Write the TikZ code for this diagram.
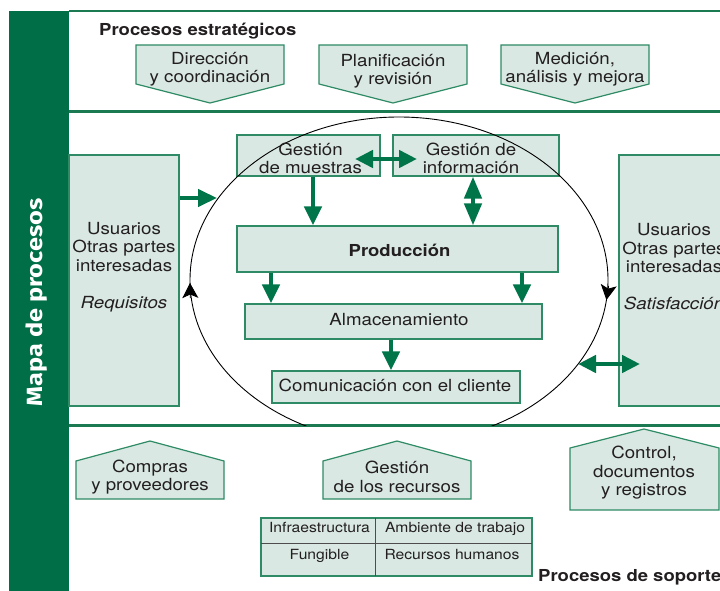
\documentclass[tikz,border=0pt]{standalone}
\usepackage{fontspec}
\usepackage{graphicx}
\setmainfont[FakeStretch=1.12]{TeX Gyre Heros}
\newfontfamily\sidefont{Fira Sans}
\usetikzlibrary{arrows.meta}
\definecolor{sidegreen}{HTML}{006F47}
\definecolor{linegreen}{HTML}{1B7A52}
\definecolor{boxgreen}{HTML}{2E8B65}
\definecolor{boxfill}{HTML}{D9E8E2}
\definecolor{arrgreen}{HTML}{00754A}
\definecolor{txtc}{HTML}{231F20}
\begin{document}
\begin{tikzpicture}[x=1pt,y=-1pt,
  sepline/.style={draw=linegreen,line width=3pt},
  boxsh/.style={draw=boxgreen,fill=boxfill,line width=1.2pt,inner sep=0pt},
  pent/.style={draw=boxgreen,fill=boxfill,line width=1.2pt,line join=miter},
  txt/.style={text=txtc,font=\fontsize{16.7}{18.5}\selectfont,align=center,inner sep=0pt},
  smalltxt/.style={text=txtc,font=\fontsize{14}{16}\selectfont,inner sep=0pt},
  titletxt/.style={text=txtc,font=\bfseries\fontsize{16.5}{18}\selectfont,inner sep=0pt},
  garrow/.style={draw=arrgreen,line width=4.5pt,-{Triangle[length=19pt,width=17pt]}},
  gdarrow/.style={draw=arrgreen,line width=4.5pt,{Triangle[length=18pt,width=17pt]}-{Triangle[length=18pt,width=17pt]}},
  cyctip/.style={draw=black,line width=0.9pt,-{Stealth[length=15pt,width=16pt,inset=3.5pt]}},
  tabline/.style={draw=txtc!80,line width=1pt}
]
\useasboundingbox (0,0) rectangle (720,591);
\clip (0,0) rectangle (720,591);
\fill[white] (0,0) rectangle (720,591);

% side bar
\fill[sidegreen] (9,11) rectangle (69,591);
\node[rotate=90,text=white,font=\sidefont\bfseries\fontsize{22}{22}\selectfont,inner sep=0pt] (side) at (37,302.5) {\scalebox{1.15}[1]{Mapa de procesos}};

% separators
\draw[draw=linegreen,line width=2pt] (69,11) -- (720,11);
\draw[sepline] (69,112) -- (720,112);
\draw[sepline] (69,425) -- (720,425);

% strategic processes
\node[titletxt,anchor=base west] (strat) at (99,35.7) {Procesos estratégicos};
\draw[pent] (136,45) -- (284,45) -- (284,84) -- (210,103) -- (136,84) -- cycle;
\draw[pent] (319,45) -- (467,45) -- (467,84) -- (393,103) -- (319,84) -- cycle;
\draw[pent] (501,45) -- (649,45) -- (649,84) -- (575,103) -- (501,84) -- cycle;
\node[txt] (dir) at (210,69) {Dirección\\y coordinación};
\node[txt] (plan) at (393,71) {Planificación\\y revisión};
\node[txt] (med) at (575,69) {Medición,\\análisis y mejora};

% user boxes
\node[boxsh,minimum width=110pt,minimum height=251pt] (luser) at (124,280.5) {};
\node[boxsh,minimum width=110pt,minimum height=251pt] (ruser) at (674,280.5) {};
\node[txt] (lusertxt) at (124,267) {Usuarios\\Otras partes\\interesadas\\[18.5pt]\textit{Requisitos}};
\node[txt] (rusertxt) at (674,267) {Usuarios\\Otras partes\\interesadas\\[18.5pt]\textit{Satisfacción}};

% central boxes
\node[boxsh,minimum width=143pt,minimum height=41pt] (muestras) at (308.5,155.5) {};
\node[boxsh,minimum width=166pt,minimum height=41pt] (info) at (476,155.5) {};
\node[boxsh,minimum width=321pt,minimum height=46pt] (prod) at (397.5,249) {};
\node[boxsh,minimum width=297pt,minimum height=35pt] (alm) at (393.5,321.5) {};
\node[boxsh,minimum width=248pt,minimum height=32pt] (com) at (396,387) {};

% cycle ellipse
\begin{scope}
\clip (69,112) rectangle (720,425);
\draw[black,line width=0.9pt] (399,280) ellipse [x radius=209, y radius=163];
\end{scope}
\coordinate (cl0) at (190.3,298);
\coordinate (cl1) at (190.0,283);
\coordinate (cr0) at (608.6,286);
\coordinate (cr1) at (606.4,300);
\draw[cyctip] (cl0) -- (cl1);
\draw[cyctip] (cr0) -- (cr1);

% texts of central boxes
\node[txt] (muestrastxt) at (310.5,158.5) {Gestión\\de muestras};
\node[txt] (infotxt) at (471,158.5) {Gestión de\\información};
\node[txt,font=\bfseries\fontsize{16.5}{18.5}\selectfont,anchor=base] (prodtxt) at (399.5,256) {Producción};
\node[txt,anchor=base] (almtxt) at (399,325) {Almacenamiento};
\node[txt,anchor=base] (comtxt) at (395,391.7) {Comunicación con el cliente};

% arrows
\coordinate (eL) at (217,198);
\coordinate (eR) at (578,364);
\coordinate (rT) at (640,364);
\coordinate (mA) at (355,159);
\coordinate (mB) at (417,159);
\coordinate (m1) at (313,0);
\coordinate (i1) at (473,0);
\coordinate (p1) at (271,0);
\coordinate (p2) at (522,0);
\coordinate (a1) at (391,0);
\draw[garrow] (luser.east |- eL) -- (eL);
\draw[gdarrow] (eR) -- (rT);
\draw[gdarrow] (mA) -- (mB);
\draw[garrow] (muestras.south -| m1) -- (prod.north -| m1);
\draw[draw=arrgreen,line width=4.5pt,{Triangle[length=22pt,width=17pt]}-{Triangle[length=22pt,width=17pt]}] (info.south -| i1) -- (prod.north -| i1);
\draw[garrow] (prod.south -| p1) -- (alm.north -| p1);
\draw[garrow] (prod.south -| p2) -- (alm.north -| p2);
\draw[garrow] (alm.south -| a1) -- (com.north -| a1);

% support processes
\draw[pent] (76,499) -- (76,461) -- (150,441) -- (224,461) -- (224,499) -- cycle;
\draw[pent] (323,499) -- (323,461) -- (397,441) -- (471,461) -- (471,499) -- cycle;
\draw[pent] (570,510) -- (570,448) -- (644,429) -- (719,448) -- (719,510) -- cycle;
\node[txt] (compras) at (150,477) {Compras\\y proveedores};
\node[txt] (recursos) at (397,477) {Gestión\\de los recursos};
\node[txt] (control) at (644,473) {Control,\\documentos\\y registros};

% resources table
\node[boxsh,minimum width=271pt,minimum height=58pt] (tab) at (396.5,547) {};
\coordinate (vdiv) at (375,0);
\coordinate (hdiv) at (0,543);
\draw[tabline] (tab.west |- hdiv) -- (tab.east |- hdiv);
\draw[tabline] (tab.north -| vdiv) -- (tab.south -| vdiv);
\draw[draw=boxgreen,line width=1.2pt] (tab.north west) rectangle (tab.south east);
\node[smalltxt,anchor=base] (infra) at (319.5,532.7) {Infraestructura};
\node[smalltxt,anchor=base] (amb) at (455,532.7) {Ambiente de trabajo};
\node[smalltxt,anchor=base] (fung) at (319.5,559.5) {Fungible};
\node[smalltxt,anchor=base] (rrhh) at (452,559.5) {Recursos humanos};

\node[titletxt,anchor=base west] (soporte) at (538,581) {Procesos de soporte};
\end{tikzpicture}
\end{document}
